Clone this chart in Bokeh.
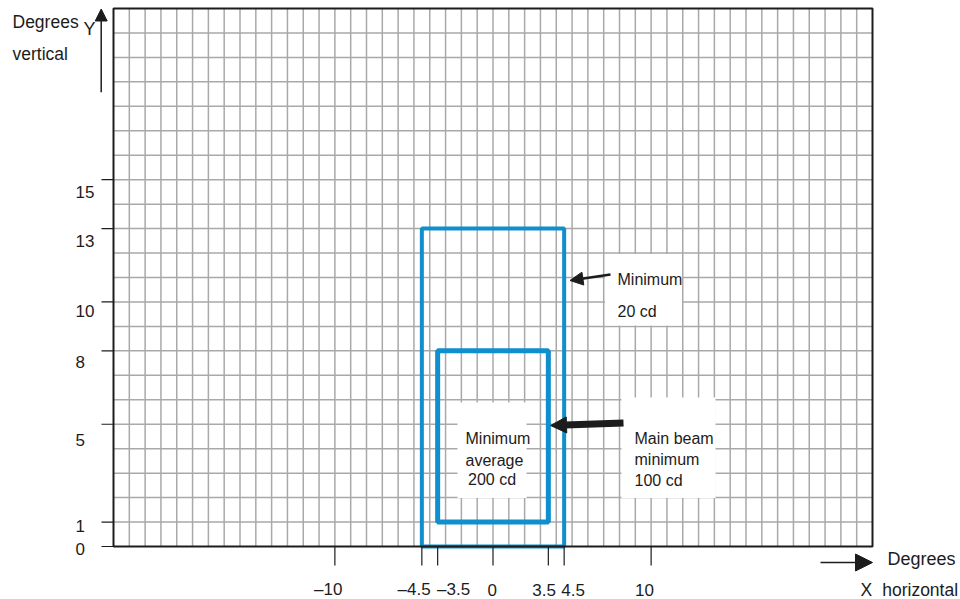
from bokeh.plotting import figure
from bokeh.models import ColumnDataSource, Arrow, NormalHead, Range1d
from bokeh.embed import file_html
from bokeh.resources import INLINE
from bokeh.core.properties import value

# ---------------- data ----------------
x_ticks = [-10, -4.5, -3.5, 0, 3.5, 4.5, 10]
x_tick_labels = ["–10", "–4.5", "–3.5", "0", "3.5", "4.5", "10"]
y_ticks = [0, 1, 5, 8, 10, 13, 15]
y_tick_labels = ["0", "1", "5", "8", "10", "13", "15"]
x_grid = list(range(-23, 24))
y_grid = list(range(1, 22))
outer_zone = {"left": [-4.5], "right": [4.5], "bottom": [0], "top": [13]}
inner_zone = {"left": [-3.5], "right": [3.5], "bottom": [1], "top": [8]}
X_MIN, X_MAX, Y_MIN, Y_MAX = -24, 24, 0, 22

# ---------------- layout / styles ----------------
W, H = 960, 599
FL, FR, FT, FB = 113, 872, 8, 546          # chart box edges in canvas pixels
PX_X = (FR - FL) / (X_MAX - X_MIN)
PX_Y = (FB - FT) / (Y_MAX - Y_MIN)


def dx(px):
    return X_MIN + (px - FL) / PX_X


def dy(py):
    return Y_MIN + (FB - py) / PX_Y


FONT = value("Liberation Sans")
INK = "#1c1c1c"
BLUE = "#0f8fcd"
GRID = "#a9a9a9"

# tick-label nudges in pixels (horizontal centre shift for x, baseline drop for y)
x_label_nudge = [-6.7, -7.7, 16, -0.8, -4.3, 9, -6.7]
y_label_drop = [2.3, 4, 16, 10.7, 9.4, 12.7, 12.4]

p = figure(width=W, height=H, x_range=Range1d(dx(0), dx(W)), y_range=Range1d(dy(H), dy(0)),
           x_axis_type=None, y_axis_type=None, output_backend="svg", toolbar_location=None,
           min_border=0)
p.outline_line_color = None
p.background_fill_color = "white"
p.border_fill_color = "white"

# grid
p.segment(x0=x_grid, y0=[Y_MIN] * len(x_grid), x1=x_grid, y1=[Y_MAX] * len(x_grid),
          line_color=GRID, line_width=1.5)
p.segment(x0=[X_MIN] * len(y_grid), y0=y_grid, x1=[X_MAX] * len(y_grid), y1=y_grid,
          line_color=GRID, line_width=1.5)

# white boxes behind the notes (mask the grid)
box_px = dict(left=[604.5, 621, 457], right=[681.5, 715, 526],
              top=[253.5, 397, 402], bottom=[325, 497.5, 497.5])
p.quad(left=[dx(v) for v in box_px["left"]], right=[dx(v) for v in box_px["right"]],
       top=[dy(v) for v in box_px["top"]], bottom=[dy(v) for v in box_px["bottom"]],
       fill_color="white", line_color=None)

# zones
p.quad(left="left", right="right", bottom="bottom", top="top", source=ColumnDataSource(outer_zone),
       fill_color=None, line_color=BLUE, line_width=4)
p.quad(left="left", right="right", bottom="bottom", top="top", source=ColumnDataSource(inner_zone),
       fill_color=None, line_color=BLUE, line_width=5)

# chart box (axes lines)
p.quad(left=[X_MIN], right=[X_MAX], bottom=[Y_MIN], top=[Y_MAX], fill_color=None,
       line_color=INK, line_width=2)

# ticks
p.segment(x0=x_ticks, y0=[Y_MIN] * len(x_ticks), x1=x_ticks, y1=[Y_MIN - 19 / PX_Y] * len(x_ticks),
          line_color=INK, line_width=1.2)
p.segment(x0=[X_MIN - 12 / PX_X] * len(y_ticks), y0=y_ticks, x1=[X_MIN] * len(y_ticks), y1=y_ticks,
          line_color=INK, line_width=1.2)

# tick labels
p.text(x=[t + n / PX_X for t, n in zip(x_ticks, x_label_nudge)], y=[dy(589)] * len(x_ticks),
       text=x_tick_labels, text_font=FONT, text_font_size=value("17px"), text_color=INK,
       text_align=value("center"), text_baseline=value("alphabetic"))
p.text(x=[dx(75)] * len(y_ticks), y=[t - d / PX_Y for t, d in zip(y_ticks, y_label_drop)],
       text=y_tick_labels, text_font=FONT, text_font_size=value("17px"), text_color=INK,
       text_align=value("left"), text_baseline=value("alphabetic"))

# notes
notes = [("Minimum", 617, 279.3), ("20 cd", 617, 310.7),
         ("Main beam", 634, 438.3), ("minimum", 634, 459), ("100 cd", 634, 480),
         ("Minimum", 465, 438.3), ("average", 465, 460), ("200 cd", 467.5, 479)]
p.text(x=[dx(n[1]) for n in notes], y=[dy(n[2]) for n in notes], text=[n[0] for n in notes],
       text_font=FONT, text_font_size=value("16px"), text_color=INK,
       text_align=value("left"), text_baseline=value("alphabetic"))

# axis titles
titles = [("Degrees", 12, 21.7, "17.5px"), ("vertical", 12, 53.3, "17.5px"), ("Y", 83, 28.3, "18px"),
          ("Degrees", 887, 558.3, "18px"), ("X", 860, 589, "17.5px"), ("horizontal", 881.7, 589, "17.5px")]
for t, x, y, s in titles:
    p.text(x=[dx(x)], y=[dy(y)], text=[t], text_font=FONT, text_font_size=value(s), text_color=INK,
           text_align=value("left"), text_baseline=value("alphabetic"))

# arrows
arrows = [((610, 274), (569.5, 280), 2.5, 13),
          ((623, 422.5), (550, 425), 7, 16),
          ((100.7, 91.7), (100.7, 8.5), 1.5, 12),
          ((820, 562), (872, 562), 1.5, 17)]
for (x0, y0), (x1, y1), lw, hs in arrows:
    p.add_layout(Arrow(end=NormalHead(size=hs, fill_color=INK, line_color=INK),
                       x_start=dx(x0), y_start=dy(y0), x_end=dx(x1), y_end=dy(y1),
                       line_color=INK, line_width=lw))

open("out.html", "w").write(file_html(p, INLINE))
